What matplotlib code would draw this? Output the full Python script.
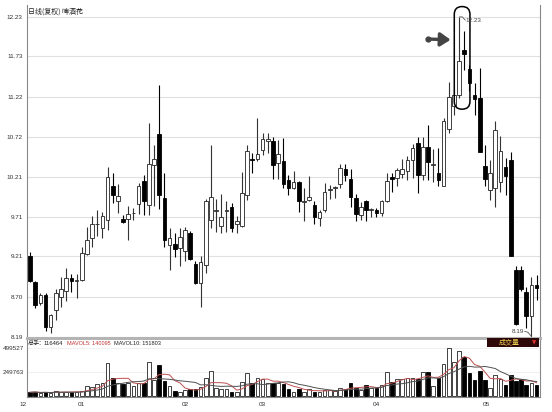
import matplotlib.pyplot as plt
import matplotlib.transforms as mtransforms
from matplotlib.patches import FancyBboxPatch, Rectangle
import numpy as np
import pandas as pd

plt.rcParams['font.family'] = ['Noto Sans CJK SC', 'DejaVu Sans']

# daily OHLC
opens = [9.21, 8.88, 8.62, 8.72, 8.32, 8.53, 8.69, 8.77, 8.93, 8.90,
         8.91, 9.24, 9.44, 9.61, 9.56, 9.67, 10.09, 9.90, 9.675, 9.675,
         9.75, 9.865, 10.16, 9.85, 10.36, 10.75, 9.95, 9.35, 9.36, 9.31,
         9.27, 9.50, 9.11, 8.87, 9.10, 9.67, 9.78, 9.595, 9.78, 9.835,
         9.62, 9.59, 9.98, 10.43, 10.44, 10.55, 10.66, 10.66, 10.38, 10.41,
         10.17, 10.07, 10.14, 9.89, 9.92, 9.86, 9.69, 9.79, 10.05, 10.07,
         10.12, 10.31, 10.18, 9.95, 9.73, 9.90, 9.79, 9.79, 9.76, 9.90,
         10.21, 10.20, 10.25, 10.29, 10.42, 10.635, 10.235, 10.59, 10.36, 10.26,
         10.10, 10.82, 11.11, 11.245, 11.81, 11.57, 11.24, 11.20, 10.35, 10.04,
         10.07, 10.15, 10.34, 10.42, 9.04, 9.04, 8.76, 8.45, 8.85]
highs = [9.26, 8.90, 8.74, 8.75, 8.48, 8.79, 8.95, 9.06, 8.99, 8.99,
         9.33, 9.58, 9.72, 9.79, 9.77, 10.33, 10.26, 10.12, 9.73, 9.84,
         9.82, 10.13, 10.23, 10.89, 10.61, 11.37, 10.26, 9.56, 9.50, 9.56,
         9.58, 9.53, 9.15, 9.21, 9.93, 10.61, 9.93, 10.00, 9.90, 9.88,
         9.72, 10.27, 10.61, 10.51, 10.95, 10.77, 10.77, 10.71, 10.68, 10.70,
         10.23, 10.29, 10.16, 10.07, 10.22, 9.90, 9.79, 10.13, 10.11, 10.09,
         10.37, 10.37, 10.31, 10.00, 9.89, 9.92, 9.82, 9.82, 9.92, 10.26,
         10.26, 10.32, 10.43, 10.47, 10.62, 10.72, 10.72, 10.87, 10.56, 10.57,
         10.95, 11.41, 11.31, 12.23, 12.05, 11.62, 11.39, 11.58, 10.61, 10.42,
         10.91, 10.73, 10.45, 10.52, 9.08, 9.09, 8.82, 8.95, 8.97]
lows = [8.89, 8.55, 8.59, 8.26, 8.24, 8.40, 8.57, 8.65, 8.76, 8.68,
        8.90, 9.23, 9.33, 9.46, 9.44, 9.54, 9.88, 9.75, 9.63, 9.42,
        9.67, 9.74, 9.73, 9.73, 9.84, 9.81, 9.33, 9.04, 9.20, 9.09,
        9.15, 9.16, 8.86, 8.57, 9.00, 9.56, 9.51, 9.50, 9.52, 9.52,
        9.50, 9.58, 9.92, 10.26, 10.41, 10.49, 10.51, 10.19, 10.19, 10.07,
        9.98, 10.06, 9.77, 9.66, 9.91, 9.62, 9.59, 9.77, 9.93, 9.95,
        10.07, 10.16, 9.83, 9.65, 9.67, 9.66, 9.70, 9.71, 9.72, 9.89,
        10.02, 10.10, 10.20, 10.17, 10.20, 10.01, 10.17, 10.17, 10.15, 10.09,
        10.09, 10.76, 10.99, 11.20, 11.56, 11.29, 10.99, 10.52, 10.09, 9.92,
        9.83, 10.02, 9.98, 9.21, 8.34, 8.77, 8.30, 8.19, 8.66]
closes = [8.90, 8.59, 8.72, 8.32, 8.47, 8.74, 8.79, 8.93, 8.90, 8.91,
          9.25, 9.42, 9.61, 9.62, 9.72, 10.21, 9.98, 9.97, 9.635, 9.74,
          9.76, 10.09, 9.91, 10.37, 10.43, 9.98, 9.41, 9.44, 9.30, 9.45,
          9.54, 9.17, 8.87, 9.14, 9.90, 9.96, 9.79, 9.70, 9.79, 9.56,
          9.66, 10.01, 10.54, 10.42, 10.50, 10.69, 10.69, 10.36, 10.50, 10.12,
          10.07, 10.15, 9.91, 9.90, 9.96, 9.70, 9.77, 10.02, 10.06, 10.08,
          10.32, 10.23, 9.96, 9.74, 9.83, 9.79, 9.80, 9.76, 9.90, 10.16,
          10.18, 10.30, 10.31, 10.42, 10.57, 10.235, 10.59, 10.40, 10.37, 10.17,
          10.92, 11.22, 11.25, 11.67, 11.76, 11.39, 11.19, 10.53, 10.19, 10.26,
          10.80, 10.54, 10.22, 9.21, 8.36, 8.79, 8.45, 8.84, 8.81]
volumes = [42000, 48000, 31000, 45000, 31000, 58000, 48000, 42000, 42000, 45000,
           55000, 107000, 100000, 125000, 135000, 343000, 187000, 142000, 128000, 135000,
           107000, 142000, 142000, 354000, 170000, 326000, 159000, 107000, 58000, 48000,
           62000, 79000, 79000, 100000, 187000, 266000, 82000, 73000, 73000, 48000,
           45000, 145000, 246000, 135000, 194000, 176000, 142000, 142000, 135000, 125000,
           73000, 48000, 79000, 42000, 79000, 48000, 42000, 69000, 62000, 55000,
           90000, 79000, 135000, 90000, 69000, 121000, 90000, 86000, 114000, 250000,
           145000, 176000, 176000, 187000, 187000, 184000, 250000, 256000, 107000, 194000,
           333000, 499527, 354000, 471000, 412000, 246000, 170000, 263000, 170000, 90000,
           218000, 184000, 121000, 222000, 163000, 176000, 114000, 135000, 116464]

price_ticks = [12.23, 11.73, 11.22, 10.72, 10.21, 9.71, 9.21, 8.70, 8.19]
vol_ticks = [249763, 499527]
month_labels = ['12', '01', '02', '03', '04', '05']
month_pos = [-1.4, 10, 30, 45, 67, 88.2]

o = np.array(opens); h = np.array(highs); l = np.array(lows); c = np.array(closes)
v = np.array(volumes, dtype=float)
x = np.arange(len(o))
down = c < o
ma5 = pd.Series(v).rolling(5, min_periods=1).mean()
ma10 = pd.Series(v).rolling(10, min_periods=1).mean()

fig = plt.figure(figsize=(5.52, 4.12), dpi=100)
ax = fig.add_axes([27/552, 1-338/412, 513/552, 333/412])
axv = fig.add_axes([27/552, 1-397/412, 513/552, 57/412])

# --- candles ---
w = 0.7
ax.vlines(x[~down], l[~down], h[~down], color='#333333', lw=0.8, zorder=2)
ax.vlines(x[down], l[down], h[down], color='black', lw=0.8, zorder=2)
body_h = np.maximum(np.abs(c - o), 0.01)
body_b = np.minimum(o, c)
ax.bar(x[~down], body_h[~down], w, bottom=body_b[~down], color='white',
       edgecolor='#222222', lw=0.6, zorder=3)
ax.bar(x[down], body_h[down], w, bottom=body_b[down], color='black',
       edgecolor='black', lw=0.6, zorder=3)

ax.set_xlim(-0.58, 98.65)
ax.set_ylim(8.177, 12.38)
ax.set_yticks(price_ticks)
ax.set_yticklabels([f'{t:.2f}' for t in price_ticks])
ax.set_xticks([])
ax.grid(axis='y', color='#e0e0e0', lw=0.8)
ax.set_axisbelow(True)
ax.tick_params(axis='y', length=0, pad=3, labelsize=4.6, labelcolor='#333333')
for lab in ax.get_yticklabels():
    lab.set_family('Liberation Sans')
ax.spines['top'].set_visible(False)
ax.spines['left'].set_color('#888888')
ax.spines['right'].set_color('#888888')
ax.spines['bottom'].set_color('#b4b4b4')
ax.spines['bottom'].set_linewidth(2.2)

ax.text(0.002, 0.979, '日线(复权) 啤酒花', transform=ax.transAxes, fontsize=5,
        ha='left', va='center', color='#222222')

# highlight around the top
pill = FancyBboxPatch((82.07, 11.065), 3.03, 1.295,
                      boxstyle='round,pad=0,rounding_size=1.5',
                      mutation_aspect=0.0654, fc='none', ec='black', lw=1.1,
                      zorder=5, clip_on=False)
ax.add_patch(pill)
ax.annotate('', xy=(81.9, 11.94), xytext=(77.0, 11.95),
            arrowprops=dict(arrowstyle='-|>,head_length=0.6,head_width=0.4',
                            lw=2.4, color='#444444'), zorder=6)
ax.plot(77.0, 11.95, 'o', ms=3.5, color='#444444', zorder=6)
ax.plot([83.1, 83.6, 84.2], [12.23, 12.23, 12.19], color='#555555', lw=0.6, zorder=6)
ax.text(84.3, 12.18, '12.23', fontsize=4.6, family='Liberation Sans',
        color='#444444', ha='left', va='center', zorder=6)
ax.plot([95.7, 96.3, 97.0], [8.26, 8.25, 8.195], color='#555555', lw=0.6,
        zorder=6, clip_on=False)
ax.text(95.6, 8.265, '8.19', fontsize=4.6, family='Liberation Sans',
        color='#444444', ha='right', va='center', zorder=6)

# --- volume ---
axv.bar(x[~down], v[~down], w, color='white', edgecolor='#222222', lw=0.6, zorder=3)
axv.bar(x[down], v[down], w, color='black', edgecolor='black', lw=0.6, zorder=3)
axv.plot(x, ma5, color='#c05050', lw=0.7, zorder=4)
axv.plot(x, ma10, color='#505050', lw=0.7, zorder=4)
axv.set_xlim(-0.58, 98.65)
axv.set_ylim(-7000, 586000)
axv.set_yticks(vol_ticks)
axv.set_yticklabels([str(t) for t in vol_ticks])
axv.set_xticks([])
axv.grid(axis='y', color='#eeeeee', lw=0.6)
axv.set_axisbelow(True)
axv.tick_params(axis='y', length=0, pad=2, labelsize=4.6, labelcolor='#333333')
for lab in axv.get_yticklabels():
    lab.set_family('Liberation Sans')
axv.spines['top'].set_visible(False)
for s in ('left', 'right', 'bottom'):
    axv.spines[s].set_color('#888888')

axv.text(1/513, 0.947, '总手:', transform=axv.transAxes, fontsize=4.4,
         ha='left', va='center', color='#222222')
axv.text(17/513, 0.947, '116464', transform=axv.transAxes, fontsize=4.2,
         family='Liberation Sans', ha='left', va='center', color='#222222')
axv.text(40/513, 0.947, 'MAVOL5: 140095', transform=axv.transAxes, fontsize=4.0,
         family='Liberation Sans', ha='left', va='center', color='#c03030')
axv.text(87/513, 0.947, 'MAVOL10: 151803', transform=axv.transAxes, fontsize=4.0,
         family='Liberation Sans', ha='left', va='center', color='#222222')

trans = mtransforms.blended_transform_factory(axv.transData, axv.transAxes)
for p, lab in zip(month_pos, month_labels):
    axv.text(p, -0.14, lab, transform=trans, fontsize=4.6, family='Liberation Sans',
             ha='center', va='center', color='#333333', clip_on=False)

# 成交量 tag
fig.patches.append(Rectangle((486.7/552, 1-346.7/412), 52.6/552, 8.4/412,
                             transform=fig.transFigure, fc='#2e0808', ec='none'))
fig.text(509/552, 1-342.5/412, '成交量', fontsize=5, color='#e8d050',
         ha='center', va='center')
fig.text(534/552, 1-342.5/412, '▼', fontsize=4, color='#e03030',
         family=['DejaVu Sans'], ha='center', va='center')

fig.savefig('out.png', dpi=100)
